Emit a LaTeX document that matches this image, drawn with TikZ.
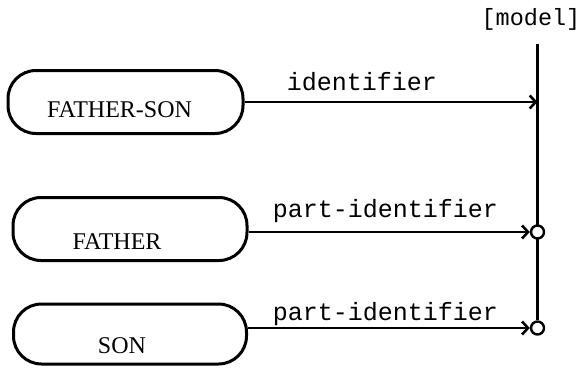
\documentclass[tikz,border=0pt]{standalone}
\usepackage{fontspec}
\setmainfont{Liberation Serif}
\setmonofont{Liberation Mono}
\usetikzlibrary{arrows.meta,backgrounds}
\begin{document}
\begin{tikzpicture}[x=1pt,y=-1pt,
  boxstyle/.style={draw,line width=3pt,rounded corners=28pt,minimum width=234pt,
    minimum height=62pt,inner sep=0pt,font=\fontsize{24}{24}\selectfont,text depth=0pt},
  lbl/.style={font=\ttfamily\fontsize{25}{25}\selectfont,anchor=base,inner sep=0pt},
  conn/.style={line width=2.8pt,-{Straight Barb[length=6pt,width=13pt,line width=2.6pt]}},
  joint/.style={circle,draw,fill=white,line width=2.4pt,minimum size=13pt,inner sep=0pt}]
\useasboundingbox (0,0) rectangle (582,370);

\node[boxstyle,minimum width=235pt,minimum height=63pt,text height=30pt] (fs) at (125.5,102) {\hspace*{-12pt}FATHER-SON};
\node[boxstyle,minimum width=234pt,minimum height=63pt,text height=40pt] (fa) at (130,229) {\hspace*{-26pt}FATHER};
\node[boxstyle,minimum width=233pt,minimum height=60pt,text height=38pt] (son) at (130,334) {\hspace*{-16pt}SON};

\coordinate (top) at (537.5,44);
\node[joint] (j2) at (537.5,232) {};
\node[joint] (j3) at (537.5,328) {};

\begin{scope}[on background layer]
\draw[line width=3.2pt] (top) -- (j3.north);
\end{scope}

\draw[conn] (fs.east) -- (fs.east -| top);
\draw[conn] (fa.east |- j2) -- (j2.west);
\draw[conn] (son.east |- j3) -- (j3.west);

\node[lbl] (l1) at (362,90) {identifier};
\node[lbl] (l2) at (385.5,217) {part-identifier};
\node[lbl] (l3) at (385.5,320) {part-identifier};
\node[lbl,font=\ttfamily\fontsize{23.5}{23.5}\selectfont] (model) at (531,25) {[model]};
\end{tikzpicture}
\end{document}
